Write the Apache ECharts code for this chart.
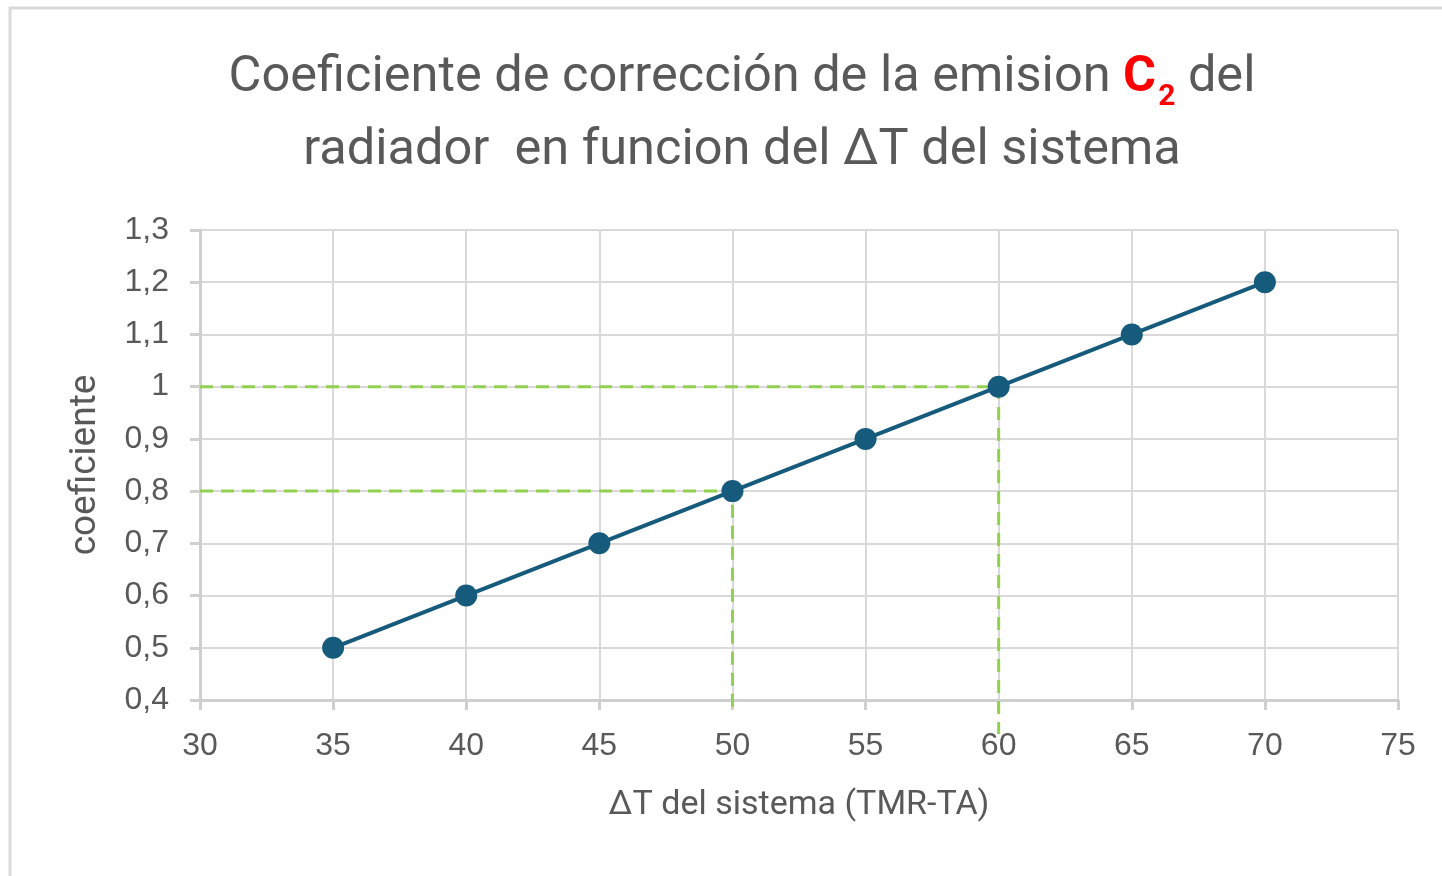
<!DOCTYPE html>
<html><head><meta charset="utf-8">
<script src="https://cdn.jsdelivr.net/npm/echarts@6/dist/echarts.min.js"></script>
<style>html,body{margin:0;padding:0;background:#fff}#c{width:1442px;height:876px}</style>
</head><body><div id="c"></div>
<script>
const deltaT = [35, 40, 45, 50, 55, 60, 65, 70];
const coef = [0.5, 0.6, 0.7, 0.8, 0.9, 1.0, 1.1, 1.2];
const guide1 = [[30, 1.0], [60, 1.0], [60, 0.335]];
const guide2 = [[30, 0.8], [50, 0.8], [50, 0.38]];
const titleLine1 = 'Coeficiente de corrección de la emision ';
const titleLine2 = 'radiador  en funcion del ΔT del sistema';
const xName = 'ΔT del sistema (TMR-TA)';
const yName = 'coeficiente';

const chart = echarts.init(document.getElementById('c'));
const FONT = 'Roboto';
const TICKFONT = 'Liberation Sans';
const GREY = '#595959';
chart.setOption({
  animation: false,
  backgroundColor: '#fff',
  graphic: [{
    type: 'rect', shape: {x: 10, y: 8, width: 1450, height: 900},
    style: {fill: 'none', stroke: '#d9d9d9', lineWidth: 3}, silent: true
  }],
  title: {
    text: '{t|' + titleLine1 + '}{c|C}{s|2}{t| del}\n{t|' + titleLine2 + '}',
    left: 737, textAlign: 'center', top: 37,
    textStyle: {
      rich: {
        t: {fontFamily: FONT, fontSize: 50.5, fontWeight: 'normal', color: GREY, lineHeight: 73},
        c: {fontFamily: FONT, fontSize: 50.5, color: '#ff0000', fontWeight: 'bold', lineHeight: 73},
        s: {fontFamily: FONT, fontSize: 30, color: '#ff0000', fontWeight: 'bold', verticalAlign: 'bottom', padding: [0,0,3,2], lineHeight: 73}
      }
    }
  },
  grid: {left: 200, right: 44, top: 230, bottom: 176},
  xAxis: {
    type: 'value', min: 30, max: 75, interval: 5,
    name: xName, nameLocation: 'middle', nameGap: 88,
    nameTextStyle: {fontFamily: FONT, fontSize: 34, color: GREY},
    axisLine: {show: true, lineStyle: {color: '#cfcfcf', width: 3}},
    axisTick: {show: true, length: 10, lineStyle: {color: '#cfcfcf', width: 3}},
    axisLabel: {fontFamily: TICKFONT, fontSize: 32, color: GREY, margin: 30},
    splitLine: {show: true, lineStyle: {color: '#d9d9d9', width: 2}}
  },
  yAxis: {
    type: 'value', min: 0.4, max: 1.3, interval: 0.1,
    name: yName, nameLocation: 'middle', nameGap: 96,
    nameTextStyle: {fontFamily: FONT, fontSize: 37, color: GREY},
    axisLine: {show: true, lineStyle: {color: '#cfcfcf', width: 3}},
    axisTick: {show: true, length: 10, lineStyle: {color: '#cfcfcf', width: 3}},
    axisLabel: {fontFamily: TICKFONT, fontSize: 32, color: GREY, margin: 31,
      formatter: v => String(Math.round(v * 10) / 10).replace('.', ',')},
    splitLine: {show: true, lineStyle: {color: '#d9d9d9', width: 2}}
  },
  series: [
    {type: 'line', data: guide1, symbol: 'none', clip: false, z: 3,
      lineStyle: {color: '#92d050', width: 3, type: [13, 8]}},
    {type: 'line', data: guide2, symbol: 'none', clip: false, z: 3,
      lineStyle: {color: '#92d050', width: 3, type: [13, 8]}},
    {type: 'line', data: deltaT.map((x, i) => [x, coef[i]]), z: 4,
      symbol: 'circle', symbolSize: 22,
      lineStyle: {color: '#165b7c', width: 4},
      itemStyle: {color: '#165b7c'}}
  ]
});
</script></body></html>
